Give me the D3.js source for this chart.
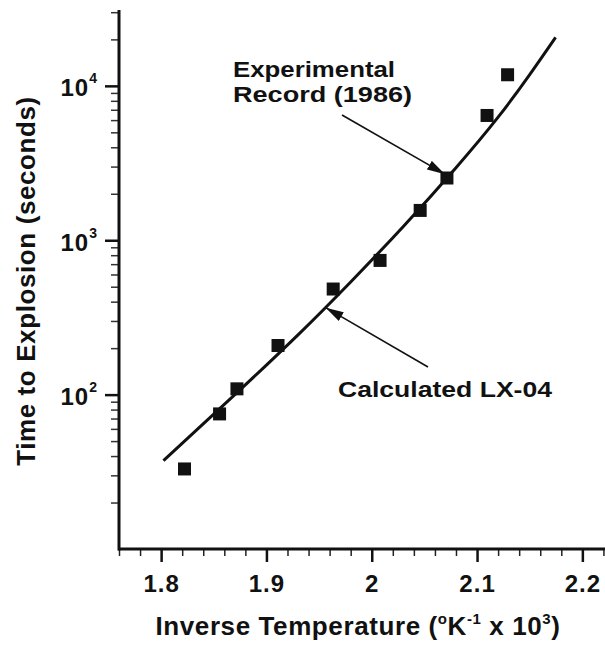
<!DOCTYPE html>
<html>
<head>
<meta charset="utf-8">
<script src="https://cdn.jsdelivr.net/npm/d3@7"></script>
<style>
  html, body { margin: 0; padding: 0; background: #fff; }
  svg { display: block; }
  text { font-family: "Liberation Sans", Arial, Helvetica, sans-serif; font-weight: bold; fill: #111; }
</style>
</head>
<body>
<svg id="chart" width="605" height="649"></svg>
<script>
// Experimental time-to-explosion record (1986)
const expInvT = [1.8222, 1.8555, 1.872, 1.911, 1.9634, 2.0079, 2.046, 2.0714, 2.1095, 2.129];
const expTime = [33, 75, 109, 208, 483, 740, 1560, 2530, 6430, 11800];

// Calculated LX-04 curve
const calcInvT = [1.8022, 1.87, 1.93, 1.98, 2.03, 2.08, 2.12, 2.15, 2.1746];
const calcTime = [37.4, 100, 244, 537, 1229, 2950, 6270, 11840, 20630];

// Axis ticks and labels
const xMajorTicks = [1.8, 1.9, 2.0, 2.1, 2.2];
const xTickLabels = ["1.8", "1.9", "2", "2.1", "2.2"];
const yMajorTicks = [100, 1000, 10000];
const yTickExponents = ["2", "3", "4"];

const xTitle = "Inverse Temperature";
const yTitle = "Time to Explosion (seconds)";

const svg = d3.select("#chart");
const plotLeft = 119, plotRight = 605, plotTop = 10, plotBottom = 549;

const x = d3.scaleLinear().domain([1.76, 2.2215]).range([plotLeft, plotRight]);
const y = d3.scaleLog().domain([10, 31000]).range([plotBottom, plotTop]);

// minor ticks
const xMinor = d3.range(1.76, 2.2201, 0.02).map(v => +v.toFixed(2))
  .filter(v => !xMajorTicks.some(m => Math.abs(m - v) < 1e-6));
const yMinor = y.ticks().filter(v => v > 10 && !yMajorTicks.includes(v));

// ---- x axis
const gx = svg.append("g").attr("transform", `translate(0,${plotBottom})`);
gx.append("g")
  .call(d3.axisBottom(x).tickValues(xMinor).tickSize(7).tickFormat(""))
  .call(g => g.select(".domain").remove())
  .call(g => g.selectAll("line").attr("stroke", "#222").attr("stroke-width", 1.5));
gx.append("g")
  .call(d3.axisBottom(x).tickValues(xMajorTicks).tickSize(13).tickPadding(13)
        .tickFormat((d, i) => xTickLabels[i]))
  .call(g => g.select(".domain").remove())
  .call(g => g.selectAll("line").attr("stroke", "#111").attr("stroke-width", 2.5))
  .call(g => g.selectAll("text")
        .attr("font-size", 24).attr("letter-spacing", 1)
        .attr("fill", "#111"))
  .attr("font-family", null).attr("font-size", null);
gx.append("line").attr("x1", plotLeft - 1).attr("x2", plotRight).attr("y1", 0).attr("y2", 0)
  .attr("stroke", "#111").attr("stroke-width", 3);

// ---- y axis
const gy = svg.append("g").attr("transform", `translate(${plotLeft},0)`);
gy.append("g")
  .call(d3.axisLeft(y).tickValues(yMinor).tickSize(8).tickFormat(""))
  .call(g => g.select(".domain").remove())
  .call(g => g.selectAll("line").attr("stroke", "#333").attr("stroke-width", 1.5));
gy.append("g")
  .call(d3.axisLeft(y).tickValues(yMajorTicks).tickSize(14).tickPadding(7).tickFormat(""))
  .call(g => g.select(".domain").remove())
  .call(g => g.selectAll("line").attr("stroke", "#111").attr("stroke-width", 2.5))
  .call(g => g.selectAll(".tick").each(function(d, i) {
    const t = d3.select(this).append("text")
      .attr("x", -21).attr("y", 10).attr("text-anchor", "end")
      .attr("font-size", 24).attr("letter-spacing", 1).attr("fill", "#111");
    t.append("tspan").text("10");
    t.append("tspan").attr("dy", -13).attr("font-size", 14).text(yTickExponents[i]);
  }))
  .attr("font-family", null).attr("font-size", null);
gy.append("line").attr("x1", 0).attr("x2", 0).attr("y1", plotTop).attr("y2", plotBottom + 1.5)
  .attr("stroke", "#111").attr("stroke-width", 3);

// ---- axis titles
const xt = svg.append("text")
  .attr("x", 358).attr("y", 635).attr("text-anchor", "middle")
  .attr("font-size", 26).attr("letter-spacing", 0.6);
xt.append("tspan").text(xTitle + " (");
xt.append("tspan").attr("dy", -11).attr("font-size", 15).text("o");
xt.append("tspan").attr("dy", 11).text("K");
xt.append("tspan").attr("dy", -11).attr("font-size", 15).text("-1");
xt.append("tspan").attr("dy", 11).text(" x 10");
xt.append("tspan").attr("dy", -11).attr("font-size", 15).text("3");
xt.append("tspan").attr("dy", 11).text(")");

svg.append("text")
  .attr("transform", "translate(35,281) rotate(-90)")
  .attr("text-anchor", "middle")
  .attr("font-size", 26).attr("letter-spacing", 0.6)
  .text(yTitle);

// ---- calculated curve
const calc = calcInvT.map((v, i) => [v, calcTime[i]]);
svg.append("path")
  .datum(calc)
  .attr("fill", "none").attr("stroke", "#111").attr("stroke-width", 3)
  .attr("d", d3.line().x(d => x(d[0])).y(d => y(d[1])).curve(d3.curveNatural));

// ---- experimental points
const sq = 13;
svg.append("g").selectAll("rect")
  .data(expInvT.map((v, i) => [v, expTime[i]]))
  .join("rect")
  .attr("x", d => x(d[0]) - sq / 2).attr("y", d => y(d[1]) - sq / 2)
  .attr("width", sq).attr("height", sq).attr("fill", "#111");

// ---- annotations
const defs = svg.append("defs");
defs.append("marker").attr("id", "head")
  .attr("viewBox", "0 0 18 10").attr("refX", 18).attr("refY", 5)
  .attr("markerWidth", 18).attr("markerHeight", 10)
  .attr("markerUnits", "userSpaceOnUse").attr("orient", "auto")
  .append("path").attr("d", "M0,0 L18,5 L0,10 Z").attr("fill", "#111");

// each line: [text, width it spans]
function note(lines, tx, ty, lineGap, tail, tip) {
  lines.forEach(([s, w], i) => svg.append("text")
    .attr("x", tx).attr("y", ty + i * lineGap)
    .attr("font-size", 21.5)
    .attr("textLength", w).attr("lengthAdjust", "spacingAndGlyphs")
    .text(s));
  svg.append("line")
    .attr("x1", tail[0]).attr("y1", tail[1])
    .attr("x2", x(tip[0])).attr("y2", y(tip[1]))
    .attr("stroke", "#111").attr("stroke-width", 1.6)
    .attr("marker-end", "url(#head)");
}

note([["Experimental", 162], ["Record (1986)", 179]], 233, 76.5, 25, [342, 115], [2.0695, 2680]);
note([["Calculated LX-04", 214]], 338, 397, 0, [428, 367], [1.9563, 366]);
</script>
</body>
</html>
